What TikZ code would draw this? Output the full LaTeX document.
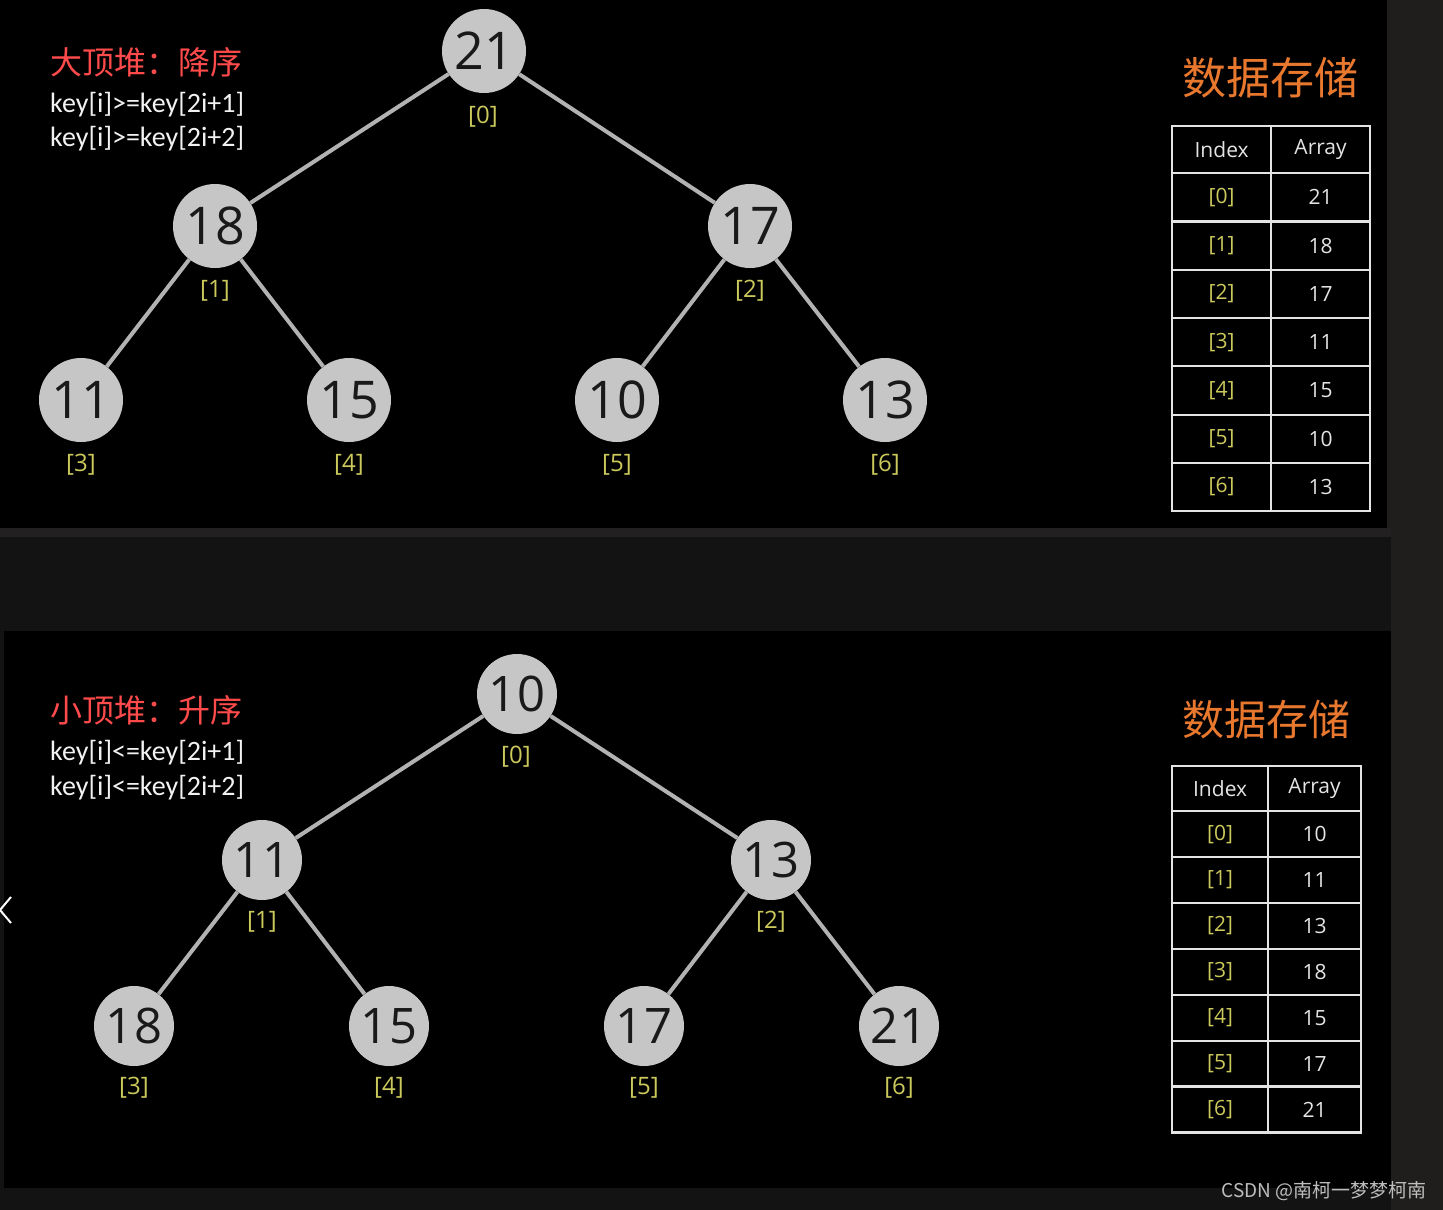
\documentclass[tikz,border=0pt]{standalone}
\usepackage{fontspec}
\setmainfont{Open Sans}
\newfontfamily\cjk{Noto Sans CJK SC}
\newfontfamily\calib{Carlito}
\usetikzlibrary{positioning}
\definecolor{bgdark}{HTML}{201E1C}
\definecolor{bgmid}{HTML}{131313}
\definecolor{stripc}{HTML}{222020}
\definecolor{circ}{HTML}{C6C6C6}
\definecolor{edgec}{HTML}{B2B2B2}
\definecolor{idxc}{HTML}{CBC95C}
\definecolor{titlered}{HTML}{FF4B4B}
\definecolor{orangec}{HTML}{E8782E}
\definecolor{textw}{HTML}{F2F2F2}
\definecolor{tablew}{HTML}{E4E4E4}
\definecolor{wmark}{HTML}{BDBDBD}
\tikzset{
  heapnode/.style={circle, fill=circ, minimum size=84pt, inner sep=0pt, text=black!90,
     font=\fontsize{52}{52}\selectfont},
  heapnodeb/.style={heapnode, minimum size=80pt, font=\fontsize{49}{49}\selectfont},
  idxlabel/.style={text=idxc, font=\fontsize{24}{24}\selectfont, inner sep=0pt},
  heapedge/.style={draw=edgec, line width=4pt},
  titletext/.style={text=titlered, font=\cjk\fontsize{32}{32}\selectfont, anchor=west, inner sep=0pt},
  keytext/.style={text=textw, font=\calib\fontsize{28}{28}\selectfont, anchor=west, inner sep=0pt},
  storetitle/.style={text=orangec, font=\cjk\fontsize{44}{44}\selectfont, inner sep=0pt},
  cell/.style={draw=tablew, line width=2.2pt, inner sep=0pt, anchor=north west},
  headtxt/.style={text=tablew, font=\fontsize{21}{21}\selectfont},
  idxtxt/.style={text=idxc, font=\fontsize{21}{21}\selectfont},
  valtxt/.style={text=tablew, font=\fontsize{21}{21}\selectfont},
}
\begin{document}
\begin{tikzpicture}[x=1pt,y=-1pt]
\useasboundingbox (0,0) rectangle (1443,1210);
% backgrounds
\fill[bgdark] (0,0) rectangle (1443,1210);
\fill[black] (0,0) rectangle (1387,528);
\fill[stripc] (0,528) rectangle (1391,537);
\fill[bgmid] (0,537) rectangle (1391,631);
\fill[bgmid] (0,631) rectangle (1391,1210);
\fill[black] (4,631) rectangle (1391,1188);

% ---------- top: max heap ----------
\node[titletext] (t1) at (50,62) {大顶堆：降序};
\node[keytext] (k1) at (50,105) {key[i]>=key[2i+1]};
\node[keytext] (k2) at (50,139) {key[i]>=key[2i+2]};

\node[heapnode] (a0) at (484,51) {21};
\node[heapnode] (a1) at (215,226) {18};
\node[heapnode] (a2) at (750,226) {17};
\node[heapnode] (a3) at (81,400) {11};
\node[heapnode] (a4) at (349,400) {15};
\node[heapnode] (a5) at (617,400) {10};
\node[heapnode] (a6) at (885,400) {13};
\draw[heapedge] (a0) -- (a1);
\draw[heapedge] (a0) -- (a2);
\draw[heapedge] (a1) -- (a3);
\draw[heapedge] (a1) -- (a4);
\draw[heapedge] (a2) -- (a5);
\draw[heapedge] (a2) -- (a6);
\node[idxlabel] (la0) at (483,117) {[0]};
\node[idxlabel] (la1) at (215,291) {[1]};
\node[idxlabel] (la2) at (750,291) {[2]};
\node[idxlabel] (la3) at (81,465) {[3]};
\node[idxlabel] (la4) at (349,465) {[4]};
\node[idxlabel] (la5) at (617,465) {[5]};
\node[idxlabel] (la6) at (885,465) {[6]};

\node[storetitle] (s1) at (1270,78) {数据存储};
% table 1
\node[cell, minimum width=99pt, minimum height=47pt] (h1i) at (1171,125) {};
\node[cell, minimum width=99pt, minimum height=47pt] (h1a) at (1270,125) {};
\node[headtxt] at (h1i.center) {Index};
\node[headtxt] at (h1a.center) {Array};
\foreach \v [count=\i from 0] in {21,18,17,11,15,10,13} {
  \node[cell, minimum width=99pt, minimum height=48.3pt] (r1i\i) at (1171,172+48.3*\i) {};
  \node[cell, minimum width=99pt, minimum height=48.3pt] (r1a\i) at (1270,172+48.3*\i) {};
  \node[idxtxt] at (r1i\i.center) {[\i]};
  \node[valtxt] at (r1a\i.center) {\v};
}

% ---------- bottom: min heap ----------
\node[titletext] (t2) at (50,710) {小顶堆：升序};
\node[keytext] (k3) at (50,753) {key[i]<=key[2i+1]};
\node[keytext] (k4) at (50,788) {key[i]<=key[2i+2]};

\node[heapnodeb] (b0) at (517,694) {10};
\node[heapnodeb] (b1) at (262,860) {11};
\node[heapnodeb] (b2) at (771,860) {13};
\node[heapnodeb] (b3) at (134,1026) {18};
\node[heapnodeb] (b4) at (389,1026) {15};
\node[heapnodeb] (b5) at (644,1026) {17};
\node[heapnodeb] (b6) at (899,1026) {21};
\draw[heapedge] (b0) -- (b1);
\draw[heapedge] (b0) -- (b2);
\draw[heapedge] (b1) -- (b3);
\draw[heapedge] (b1) -- (b4);
\draw[heapedge] (b2) -- (b5);
\draw[heapedge] (b2) -- (b6);
\node[idxlabel] (lb0) at (516,757) {[0]};
\node[idxlabel] (lb1) at (262,922) {[1]};
\node[idxlabel] (lb2) at (771,922) {[2]};
\node[idxlabel] (lb3) at (134,1088) {[3]};
\node[idxlabel] (lb4) at (389,1088) {[4]};
\node[idxlabel] (lb5) at (644,1088) {[5]};
\node[idxlabel] (lb6) at (899,1088) {[6]};

\node[storetitle, font=\cjk\fontsize{42}{42}\selectfont] (s2) at (1266,720) {数据存储};
% table 2
\node[cell, minimum width=96pt, minimum height=45pt] (h2i) at (1171,765) {};
\node[cell, minimum width=93pt, minimum height=45pt] (h2a) at (1267,765) {};
\node[headtxt] at (h2i.center) {Index};
\node[headtxt] at (h2a.center) {Array};
\foreach \v [count=\i from 0] in {10,11,13,18,15,17,21} {
  \node[cell, minimum width=96pt, minimum height=45.9pt] (r2i\i) at (1171,810+45.9*\i) {};
  \node[cell, minimum width=93pt, minimum height=45.9pt] (r2a\i) at (1267,810+45.9*\i) {};
  \node[idxtxt] at (r2i\i.center) {[\i]};
  \node[valtxt] at (r2a\i.center) {\v};
}

% chevron at left edge
\coordinate (c1) at (11,897);
\coordinate (c2) at (0,910);
\coordinate (c3) at (11,923);
\draw[white, line width=2pt] (c1) -- (c2) -- (c3);

% watermark
\node[text=wmark, font=\cjk\fontsize{19}{19}\selectfont, anchor=east, inner sep=0pt] (wm) at (1427,1191) {CSDN @南柯一梦梦柯南};
\end{tikzpicture}
\end{document}
